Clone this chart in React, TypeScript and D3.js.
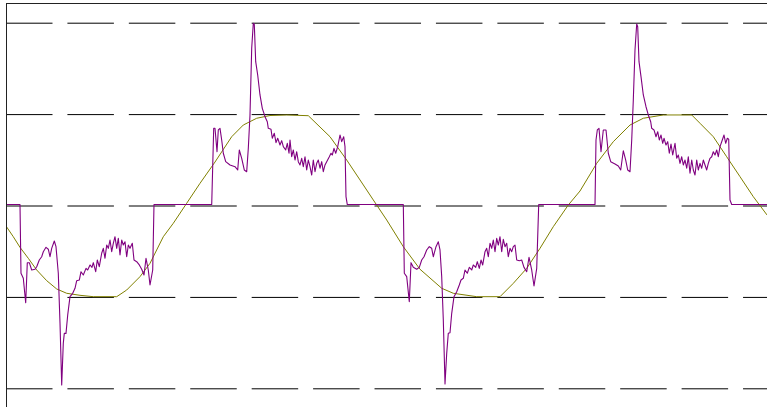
import React from "react";
import * as d3 from "d3";

// time in ms, value in per-unit
const signalT = [0, 0.729, 0.781, 0.901, 1.026, 1.109, 1.214, 1.339, 1.51, 1.599, 1.734, 1.859, 1.943, 2.083, 2.203, 2.292, 2.38, 2.516, 2.604, 2.724, 2.813, 2.901, 2.984, 3.036, 3.125, 3.214, 3.333, 3.474, 3.594, 3.682, 3.818, 3.906, 4.026, 4.167, 4.255, 4.375, 4.479, 4.547, 4.672, 4.755, 4.859, 4.984, 5.068, 5.156, 5.245, 5.328, 5.417, 5.505, 5.589, 5.677, 5.766, 5.849, 5.938, 6.026, 6.109, 6.198, 6.286, 6.37, 6.458, 6.578, 6.667, 6.807, 6.943, 7.068, 7.188, 7.292, 7.411, 7.5, 7.641, 7.708, 10.714,
  10.818, 10.885, 10.99, 11.057, 11.146, 11.234, 11.318, 11.443, 11.667, 11.927, 12.068, 12.151, 12.276, 12.411, 12.536, 12.62, 12.708, 12.797, 12.88, 12.932, 13.005, 13.109, 13.229, 13.349, 13.49, 13.609, 13.661, 13.802, 13.87, 13.974, 14.063, 14.151, 14.271, 14.359, 14.443, 14.568, 14.651, 14.74, 14.792, 14.88, 14.964, 15.052, 15.141, 15.224, 15.313, 15.401, 15.484, 15.573, 15.661, 15.745, 15.833, 15.922, 16.005, 16.094, 16.182, 16.266, 16.354, 16.443, 16.526, 16.615, 16.703, 16.839, 16.927, 16.995, 17.083, 17.172, 17.276, 17.396, 17.484, 17.589, 17.656, 17.708, 17.776, 20.693,
  20.745, 20.87, 21.005, 21.094, 21.214, 21.391, 21.526, 21.651, 21.771, 21.911, 22.047, 22.172, 22.255, 22.396, 22.516, 22.604, 22.693, 22.776, 22.865, 22.953, 23.036, 23.125, 23.214, 23.333, 23.474, 23.609, 23.698, 23.818, 23.906, 24.026, 24.13, 24.255, 24.339, 24.464, 24.547, 24.651, 24.74, 24.828, 24.948, 25.036, 25.12, 25.208, 25.297, 25.38, 25.469, 25.557, 25.641, 25.729, 25.818, 25.901, 25.99, 26.078, 26.161, 26.25, 26.339, 26.422, 26.51, 26.599, 26.734, 26.859, 26.979, 27.12, 27.24, 27.38, 27.5, 27.641, 27.745, 30.677,
  30.729, 30.797, 30.885, 30.99, 31.109, 31.25, 31.37, 31.495, 31.719, 31.891, 32.016, 32.151, 32.276, 32.38, 32.5, 32.589, 32.672, 32.76, 32.849, 32.901, 32.969, 33.073, 33.193, 33.333, 33.453, 33.578, 33.63, 33.75, 33.854, 33.943, 34.026, 34.115, 34.203, 34.271, 34.375, 34.464, 34.547, 34.635, 34.724, 34.844, 34.932, 35.016, 35.104, 35.193, 35.276, 35.365, 35.453, 35.536, 35.625, 35.714, 35.797, 35.885, 35.974, 36.057, 36.146, 36.234, 36.318, 36.406, 36.495, 36.578, 36.667, 36.755, 36.839, 36.927, 37.016, 37.099, 37.188, 37.307, 37.396, 37.484, 37.568, 37.641, 37.708, 37.797, 39.635];

const signalV = [0.016, 0.016, -0.736, -0.791, -1.058, -0.62, -0.62, -0.7, -0.692, -0.664, -0.591, -0.555, -0.5, -0.452, -0.473, -0.555, -0.463, -0.383, -0.445, -0.736, -1.283, -1.958, -1.502, -1.393, -1.393, -1.193, -0.992, -0.955, -0.9, -0.817, -0.81, -0.719, -0.755, -0.682, -0.7, -0.645, -0.671, -0.62, -0.719, -0.591, -0.664, -0.517, -0.463, -0.572, -0.427, -0.463, -0.372, -0.5, -0.408, -0.336, -0.463, -0.353, -0.536, -0.372, -0.427, -0.391, -0.555, -0.427, -0.463, -0.408, -0.591, -0.609, -0.645, -0.692, -0.755, -0.572, -0.7, -0.864, -0.7, 0.016, 0.016,
  0.85, 0.85, 0.594, 0.832, 0.85, 0.722, 0.577, 0.485, 0.449, 0.43, 0.394, 0.613, 0.522, 0.394, 0.375, 0.631, 0.996, 1.725, 1.999, 1.988, 1.579, 1.433, 1.215, 1.069, 0.977, 0.922, 0.85, 0.839, 0.741, 0.796, 0.693, 0.741, 0.667, 0.715, 0.649, 0.613, 0.686, 0.577, 0.722, 0.539, 0.613, 0.503, 0.594, 0.485, 0.449, 0.522, 0.43, 0.539, 0.394, 0.503, 0.43, 0.339, 0.503, 0.375, 0.467, 0.503, 0.413, 0.485, 0.375, 0.449, 0.485, 0.539, 0.577, 0.558, 0.631, 0.577, 0.649, 0.777, 0.704, 0.758, 0.649, 0.102, 0.016, 0.016,
  -0.736, -0.773, -1.047, -0.62, -0.671, -0.692, -0.671, -0.591, -0.555, -0.481, -0.445, -0.463, -0.555, -0.445, -0.391, -0.481, -0.773, -1.247, -1.947, -1.612, -1.393, -1.386, -1.174, -0.992, -0.938, -0.864, -0.81, -0.791, -0.7, -0.736, -0.671, -0.7, -0.645, -0.671, -0.609, -0.682, -0.591, -0.645, -0.5, -0.463, -0.555, -0.408, -0.463, -0.372, -0.5, -0.353, -0.427, -0.336, -0.5, -0.364, -0.445, -0.408, -0.555, -0.463, -0.5, -0.445, -0.427, -0.591, -0.598, -0.591, -0.671, -0.719, -0.561, -0.7, -0.875, -0.682, 0.016, 0.016,
  0.722, 0.832, 0.85, 0.594, 0.832, 0.832, 0.577, 0.485, 0.46, 0.438, 0.394, 0.605, 0.503, 0.394, 0.375, 0.722, 1.16, 1.707, 1.991, 1.962, 1.579, 1.415, 1.215, 1.086, 0.996, 0.922, 0.85, 0.832, 0.758, 0.813, 0.722, 0.777, 0.686, 0.741, 0.667, 0.704, 0.577, 0.678, 0.558, 0.686, 0.522, 0.558, 0.467, 0.539, 0.449, 0.503, 0.413, 0.539, 0.358, 0.503, 0.394, 0.339, 0.503, 0.394, 0.467, 0.413, 0.503, 0.449, 0.394, 0.467, 0.522, 0.539, 0.594, 0.558, 0.613, 0.539, 0.649, 0.722, 0.777, 0.686, 0.741, 0.73, 0.066, 0.016, 0.016];

const fundT = [0, 0.38, 0.729, 1.161, 1.599, 2.12, 2.641, 3.161, 3.854, 4.547, 5.766, 6.286, 6.979, 7.5, 8.193, 8.714, 9.411, 10.104, 10.885, 11.755, 12.359, 13.057, 13.75, 14.62, 15.745, 16.875, 17.745, 18.438, 19.13, 19.828, 20.693, 21.563, 22.693, 23.297, 24.516, 25.729, 26.422, 27.12, 27.813, 28.505, 29.286, 29.896, 30.766, 31.63, 32.5, 33.193, 34.234, 35.714, 36.146, 36.839, 37.536, 38.229, 38.922, 39.635];
const fundV = [-0.219, -0.336, -0.452, -0.572, -0.7, -0.817, -0.908, -0.955, -0.977, -0.992, -0.992, -0.919, -0.773, -0.627, -0.336, -0.189, 0.03, 0.248, 0.481, 0.758, 0.886, 0.96, 0.99, 0.996, 0.988, 0.758, 0.503, 0.285, 0.066, -0.153, -0.445, -0.692, -0.9, -0.955, -0.992, -0.992, -0.846, -0.682, -0.463, -0.226, 0.011, 0.164, 0.467, 0.704, 0.886, 0.96, 0.996, 0.996, 0.905, 0.758, 0.539, 0.321, 0.102, -0.098];

const gridValues = [-2, -1, 0, 1, 2];

const W = 767;
const H = 407;
const left = 6;
const top = 3;

export default function App() {
  const x = d3.scaleLinear().domain([0, 39.635]).range([left, W]);
  const y = d3.scaleLinear().domain([-2.199, 2.221]).range([H, top]);

  const sig = signalT.map((t, i) => [t, signalV[i]] as [number, number]);
  const fund = fundT.map((t, i) => [t, fundV[i]] as [number, number]);

  const line = d3
    .line<[number, number]>()
    .x((d) => x(d[0]))
    .y((d) => y(d[1]));

  return (
    <svg
      width={W}
      height={H}
      style={{ position: "absolute", left: 0, top: 0, background: "#fff" }}
    >
      <defs>
        <clipPath id="plot">
          <rect x={left} y={top} width={W - left} height={H - top} />
        </clipPath>
      </defs>
      <rect x={0} y={0} width={W} height={H} fill="#fff" />
      <g clipPath="url(#plot)">
        {gridValues.map((v) => (
          <line
            key={v}
            x1={left}
            x2={W}
            y1={y(v)}
            y2={y(v)}
            stroke="#000"
            strokeWidth={1}
            strokeDasharray="46.5,14.92"
          />
        ))}
        <path d={line(fund) || ""} fill="none" stroke="#808000" strokeWidth={1} />
        <path d={line(sig) || ""} fill="none" stroke="#800080" strokeWidth={1.1} strokeLinejoin="round" />
      </g>
      <line x1={left + 0.5} x2={left + 0.5} y1={top} y2={H} stroke="#222" strokeWidth={1} />
      <line x1={left} x2={W} y1={top + 0.5} y2={top + 0.5} stroke="#222" strokeWidth={1} />
    </svg>
  );
}
